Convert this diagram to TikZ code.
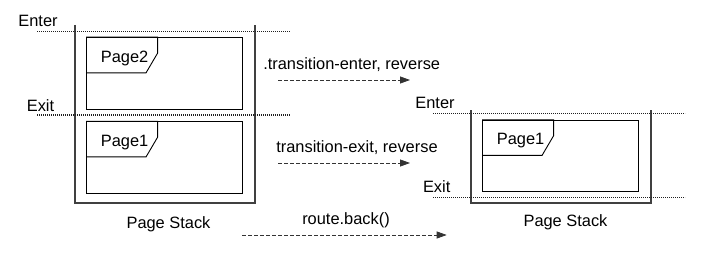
\documentclass[tikz,border=0pt]{standalone}
\usepackage{fontspec}
\setmainfont{Liberation Sans}
\usetikzlibrary{arrows.meta,calc}
\definecolor{cStack}{HTML}{404040}
\definecolor{cFlow}{HTML}{333333}
\definecolor{cLimit}{HTML}{202020}

\begin{document}
\begin{tikzpicture}[x=1pt, y=-1pt,
  lbl/.style={font=\fontsize{16.4}{19}\selectfont, anchor=base, inner sep=0pt},
  card/.style={draw=black, line width=0.9pt, minimum width=156pt, minimum height=71.5pt, inner sep=0pt},
  tab/.style={draw=black, line width=0.9pt},
  stack/.style={draw=cStack, line width=2pt},
  limit/.style={draw=cLimit, line width=1.6pt, dash pattern=on 1.1pt off 0.9pt},
  flow/.style={draw=cFlow, line width=0.8pt, dash pattern=on 4pt off 2pt, -{Triangle[length=10pt, width=7pt]}}]
\useasboundingbox (0,0) rectangle (706,254);

% Left stack (open top)
\draw[stack] (75,25) |- (255,203) -- (255,25);
\node[card] (p2) at (164.5,73.4) {};
\node[card] (p1) at (164.5,157.5) {};
\node[lbl] (stackL) at (168.5,228) {Page Stack};

% Right stack (open top)
\draw[stack] (471,110) |- (650.7,202.7) -- (650.7,110);
\node[card] (q1) at (560.5,156) {};
\node[lbl] (stackR) at (565.5,226.7) {Page Stack};

% Page tabs
\foreach \c/\l in {p2/Page2, p1/Page1, q1/Page1} {
    \draw[tab] (\c.north west) -- ++(71.5,0) -- ++(0,16) -- ++(-11.5,19.6) -- ++(-60,0);
    \node[lbl] (\c-name) at ($(\c.north west)+(38.5,25)$) {\l};
}

% Enter / exit limits
\draw[limit] (37,31.7) -- (290,31.7);
\draw[limit] (37,115) -- (290,115);
\node[lbl] (enterL) at (38,26.7) {Enter};
\node[lbl] (exitL) at (40.5,111.7) {Exit};

\draw[limit] (433,113.3) -- (685,113.3);
\draw[limit] (433,197.3) -- (685,197.3);
\node[lbl] (enterR) at (435,108.3) {Enter};
\node[lbl] (exitR) at (436.7,192.7) {Exit};

% Transitions
\node[lbl] (teText) at (351.7,69.3) {.transition-enter, reverse};
\coordinate (te-a) at (278,80);
\coordinate (te-b) at (410,80);
\draw[flow] (te-a) -- (te-b);

\node[lbl] (txText) at (357,152.7) {transition-exit, reverse};
\coordinate (tx-a) at (278,163);
\coordinate (tx-b) at (410,163);
\draw[flow] (tx-a) -- (tx-b);

\node[lbl] (rbText) at (346,224.3) {route.back()};
\coordinate (rb-a) at (242,235);
\coordinate (rb-b) at (446.7,235);
\draw[flow] (rb-a) -- (rb-b);

\end{tikzpicture}
\end{document}
